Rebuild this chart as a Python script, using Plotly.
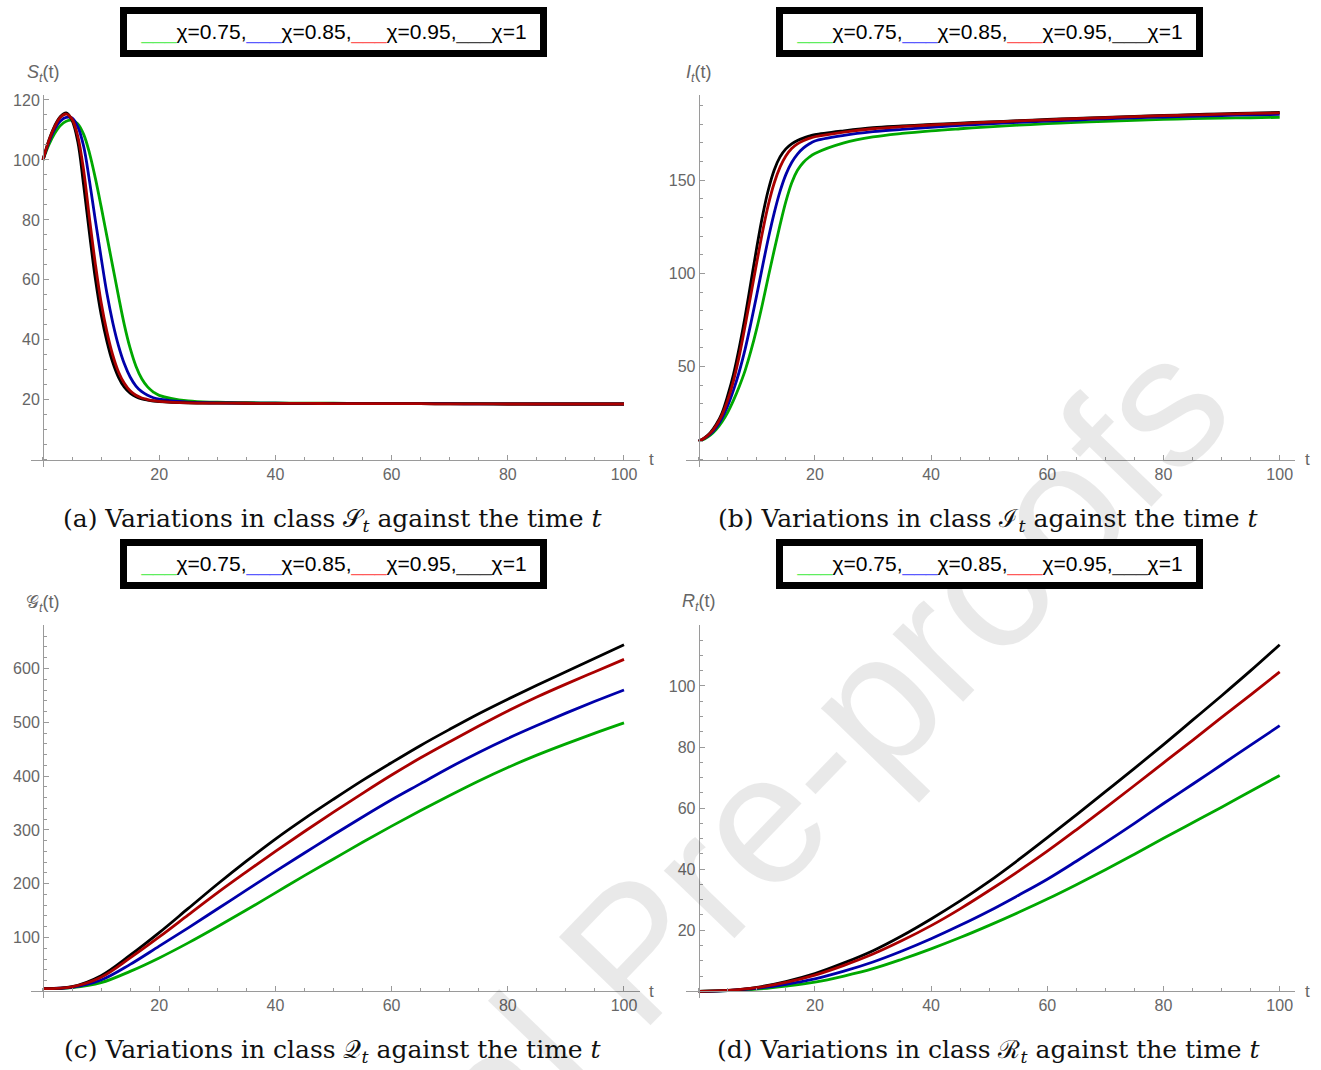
import plotly.graph_objects as go

W, H = 1321, 1070

# ---------------- data ----------------
t_S = [0, 1, 2, 3, 4, 5, 6, 7, 8, 9, 10, 11, 12, 13, 14, 15, 16, 17, 18, 19, 20,
       25, 30, 35, 40, 45, 50, 55, 60, 65, 70, 75, 80, 85, 90, 95, 100]
S_075 = [100, 105, 108.8, 111.5, 112.9, 113.2, 112, 108.5, 102.3, 94, 84.5, 74.5, 64.5, 54.5, 45, 37.2, 31.2, 27, 24.3, 22.6, 21.5,
         19.6, 19.2, 19.05, 18.95, 18.9, 18.85, 18.8, 18.8, 18.75, 18.7, 18.7, 18.65, 18.65, 18.6, 18.6, 18.6]
S_085 = [100, 105.8, 110.2, 113.0, 114.2, 114.0, 111, 104.5, 93, 80, 67.5, 55.5, 45.8, 38, 32, 27.6, 24.6, 22.7, 21.5, 20.7, 20.2,
         19.2, 19.0, 18.9, 18.85, 18.8, 18.8, 18.75, 18.7, 18.7, 18.7, 18.65, 18.65, 18.6, 18.6, 18.6, 18.6]
S_095 = [100, 106.3, 111.0, 114.2, 115.3, 113.6, 107.8, 96.5, 80.5, 65.5, 52.5, 42.7, 35, 29.3, 25.5, 23, 21.5, 20.6, 20.1, 19.7, 19.5,
         19.0, 18.9, 18.85, 18.8, 18.8, 18.75, 18.7, 18.7, 18.7, 18.65, 18.65, 18.6, 18.6, 18.6, 18.6, 18.6]
S_100 = [100, 106.5, 111.3, 114.5, 115.7, 113.2, 106, 91.5, 75.5, 60.5, 48.5, 39.5, 32.5, 27.5, 24.2, 22.2, 21, 20.3, 19.9, 19.6, 19.4,
         19.0, 18.9, 18.85, 18.8, 18.8, 18.75, 18.7, 18.7, 18.7, 18.65, 18.65, 18.6, 18.6, 18.6, 18.6, 18.6]

t_I = t_S
I_075 = [10, 11.2, 13.2, 16.2, 20.3, 25.5, 32, 39.5, 48, 58.5, 70.5, 84, 98.5, 112.5, 126, 138.5, 148.5, 155.3, 159.5, 162.3, 164.3,
         170, 173.2, 175.1, 176.5, 177.6, 178.6, 179.5, 180.3, 181, 181.6, 182.1, 182.6, 183, 183.3, 183.5, 183.7]
I_085 = [10, 11.5, 13.8, 17.3, 22.3, 29, 37.5, 47.5, 59.5, 73.5, 88.5, 104, 119, 132.5, 144, 153, 159.5, 164, 167.2, 169.4, 171,
         174, 176, 177.3, 178.4, 179.4, 180.2, 181, 181.7, 182.3, 182.9, 183.4, 183.9, 184.3, 184.7, 185, 185.3]
I_095 = [10, 11.7, 14.3, 18.3, 24, 32, 42.5, 56, 72, 89, 106, 122.5, 137, 148.5, 157, 163, 167, 169.5, 171.2, 172.4, 173.3,
         175.8, 177.6, 178.7, 179.6, 180.4, 181.1, 181.8, 182.4, 183, 183.5, 184.1, 184.6, 185, 185.4, 185.8, 186.1]
I_100 = [10, 11.8, 14.6, 18.9, 25, 34.5, 46, 60.5, 77, 95.5, 114, 131, 145, 155.5, 162.5, 166.8, 169.5, 171.3, 172.6, 173.6, 174.4,
         176.5, 178.2, 179.1, 179.9, 180.6, 181.3, 181.9, 182.6, 183.2, 183.7, 184.2, 184.7, 185.2, 185.6, 186, 186.4]

t_Q = [0, 5, 10, 15, 20, 25, 30, 35, 40, 45, 50, 55, 60, 65, 70, 75, 80, 85, 90, 95, 100]
Q_075 = [5, 7, 16, 37, 62, 90, 120, 151, 183, 215, 246, 277, 307, 336, 364, 391, 416, 439, 460, 480, 499]
Q_085 = [5, 7.5, 21, 50, 84, 118, 153, 188, 223, 257, 291, 324, 356, 386, 416, 444, 470, 494, 517, 539, 560]
Q_095 = [5, 8.3, 26, 62, 101, 142, 183, 222, 260, 297, 333, 368, 402, 434, 464, 493, 521, 547, 571, 594, 617]
Q_100 = [5, 8.5, 29, 67, 109, 154, 199, 242, 283, 321, 357, 392, 425, 457, 487, 516, 543, 569, 594, 619, 644]

t_R = [0, 5, 10, 15, 20, 25, 30, 35, 40, 45, 50, 55, 60, 65, 70, 75, 80, 85, 90, 95, 100]
R_075 = [0, 0.2, 0.7, 1.7, 3.0, 5.0, 7.4, 10.5, 13.9, 17.6, 21.6, 25.8, 30.2, 34.9, 39.8, 44.9, 50.1, 55.2, 60.3, 65.5, 70.7]
R_085 = [0, 0.25, 1.0, 2.3, 4.1, 6.6, 9.6, 13.2, 17.2, 21.6, 26.3, 31.4, 36.7, 42.6, 48.7, 55, 61.5, 67.8, 74.2, 80.6, 87]
R_095 = [0, 0.3, 1.2, 2.9, 5.3, 8.5, 12.2, 16.6, 21.5, 27, 33, 39.3, 45.9, 52.9, 60.1, 67.4, 74.8, 82.2, 89.7, 97.1, 104.6]
R_100 = [0, 0.3, 1.3, 3.2, 5.8, 9.3, 13.3, 18.2, 23.7, 29.6, 36, 43, 50.3, 57.8, 65.4, 73, 80.8, 88.8, 96.8, 105, 113.5]

orders = ["0.75", "0.85", "0.95", "1"]
x_ticks = [20, 40, 60, 80, 100]

# ---------------- styling ----------------
line_colors = {"0.75": "#00a800", "0.85": "#0000aa", "0.95": "#aa0000", "1": "#000000"}
swatch_colors = {"0.75": "#5fee5f", "0.85": "#5a5aff", "0.95": "#ff5a5a", "1": "#444444"}
draw_order = ["0.75", "0.85", "1", "0.95"]
AX = "#9a9a9a"
SANS = "Liberation Sans, Arial, sans-serif"
TICKFONT = dict(family=SANS, size=16, color="#666666")

panels = [
    dict(t=t_S, ys={"0.75": S_075, "0.85": S_085, "0.95": S_095, "1": S_100},
         tx0=43, y0=457.5, ppu=3.01, yr=[-2.5, 121.5], yt=[20, 40, 60, 80, 100, 120], ym=5,
         ylab="<i>S</i><sub><i>t</i></sub>(t)",
         cap="(a) Variations in class 𝒮<sub><i>t</i></sub> against the time <i>t</i>"),
    dict(t=t_I, ys={"0.75": I_075, "0.85": I_085, "0.95": I_095, "1": I_100},
         tx0=698.7, y0=457.5, ppu=1.871, yr=[-3.7, 195.5], yt=[50, 100, 150], ym=10,
         ylab="<i>I</i><sub><i>t</i></sub>(t)",
         cap="(b) Variations in class ℐ<sub><i>t</i></sub> against the time <i>t</i>"),
    dict(t=t_Q, ys={"0.75": Q_075, "0.85": Q_085, "0.95": Q_095, "1": Q_100},
         tx0=43, y0=991, ppu=0.54, yr=[-13, 680], yt=[100, 200, 300, 400, 500, 600], ym=20,
         ylab="𝒢<sub><i>t</i></sub>(t)",
         cap="(c) Variations in class 𝒬<sub><i>t</i></sub> against the time <i>t</i>"),
    dict(t=t_R, ys={"0.75": R_075, "0.85": R_085, "0.95": R_095, "1": R_100},
         tx0=698.7, y0=991, ppu=3.065, yr=[-2.3, 120], yt=[20, 40, 60, 80, 100], ym=5,
         ylab="<i>R</i><sub><i>t</i></sub>(t)",
         cap="(d) Variations in class ℛ<sub><i>t</i></sub> against the time <i>t</i>"),
]

PPT = 5.81  # pixels per unit of t
XR = [-2.1, 102.7]

fig = go.Figure()
layout = dict(width=W, height=H, margin=dict(l=0, r=0, t=0, b=0),
              paper_bgcolor="white", plot_bgcolor="rgba(0,0,0,0)", showlegend=False)
annotations = []

# watermark (drawn first so everything else sits above it)
annotations.append(dict(text="Journal Pre-proofs", x=665 / W, y=1 - 917 / H, xref="paper", yref="paper",
                        showarrow=False, textangle=-46, xanchor="center", yanchor="middle",
                        font=dict(family=SANS, size=185, color="rgba(0,0,0,0.085)")))

legend_text = ",".join(
    '<span style="color:%s">___</span>χ=%s' % (swatch_colors[o], o) for o in orders)

for i, p in enumerate(panels, start=1):
    xa = "xaxis" if i == 1 else "xaxis%d" % i
    ya = "yaxis" if i == 1 else "yaxis%d" % i
    xr = "x" if i == 1 else "x%d" % i
    yr = "y" if i == 1 else "y%d" % i
    x_left = p["tx0"] + XR[0] * PPT
    x_right = p["tx0"] + XR[1] * PPT
    y_bot = p["y0"] - p["yr"][0] * p["ppu"]
    y_top = p["y0"] - p["yr"][1] * p["ppu"]
    layout[xa] = dict(domain=[x_left / W, x_right / W], range=XR, anchor="free",
                      position=1 - p["y0"] / H, showgrid=False, zeroline=False,
                      showline=True, linecolor=AX, linewidth=1,
                      tickvals=x_ticks, ticks="inside", ticklen=5, tickcolor=AX,
                      minor=dict(ticks="inside", ticklen=3, tickcolor=AX, dtick=5, tick0=0),
                      tickfont=TICKFONT, fixedrange=True)
    layout[ya] = dict(domain=[1 - y_bot / H, 1 - y_top / H], range=p["yr"], anchor="free",
                      position=p["tx0"] / W, showgrid=False, zeroline=False,
                      showline=True, linecolor=AX, linewidth=1,
                      tickvals=p["yt"], ticks="inside", ticklen=5, tickcolor=AX,
                      minor=dict(ticks="inside", ticklen=3, tickcolor=AX, dtick=p["ym"], tick0=0),
                      tickfont=TICKFONT, fixedrange=True)
    for o in draw_order:
        fig.add_trace(go.Scatter(x=p["t"], y=p["ys"][o], mode="lines", xaxis=xr, yaxis=yr,
                                 line=dict(color=line_colors[o], width=2.8, shape="spline",
                                           smoothing=1.0),
                                 name="χ=" + o))
    # y-axis label
    annotations.append(dict(text=p["ylab"], x=p["tx0"] / W, y=1 - (y_top - 22) / H,
                            xref="paper", yref="paper", showarrow=False,
                            xanchor="center", yanchor="middle",
                            font=dict(family=SANS, size=18, color="#666666")))
    # x-axis label
    annotations.append(dict(text="t", x=(x_right + 12) / W, y=1 - p["y0"] / H,
                            xref="paper", yref="paper", showarrow=False,
                            xanchor="center", yanchor="middle",
                            font=dict(family=SANS, size=17, color="#666666")))
    # caption
    annotations.append(dict(text=p["cap"], x=(p["tx0"] + 290) / W, y=1 - (p["y0"] + 60) / H,
                            xref="paper", yref="paper", showarrow=False,
                            xanchor="center", yanchor="middle",
                            font=dict(family="DejaVu Serif, Liberation Serif, serif", size=25,
                                      color="#111111")))
    # legend box
    annotations.append(dict(text=legend_text, x=(p["tx0"] + 290.5) / W,
                            y=1 - (p["y0"] - 429) / H,
                            xref="paper", yref="paper", showarrow=False,
                            xanchor="center", yanchor="middle", align="center", valign="middle",
                            width=413, height=36, bgcolor="white", bordercolor="black",
                            borderwidth=7, borderpad=0,
                            font=dict(family=SANS, size=21, color="black")))

layout["annotations"] = annotations
fig.update_layout(**layout)
fig.write_html("out.html")
